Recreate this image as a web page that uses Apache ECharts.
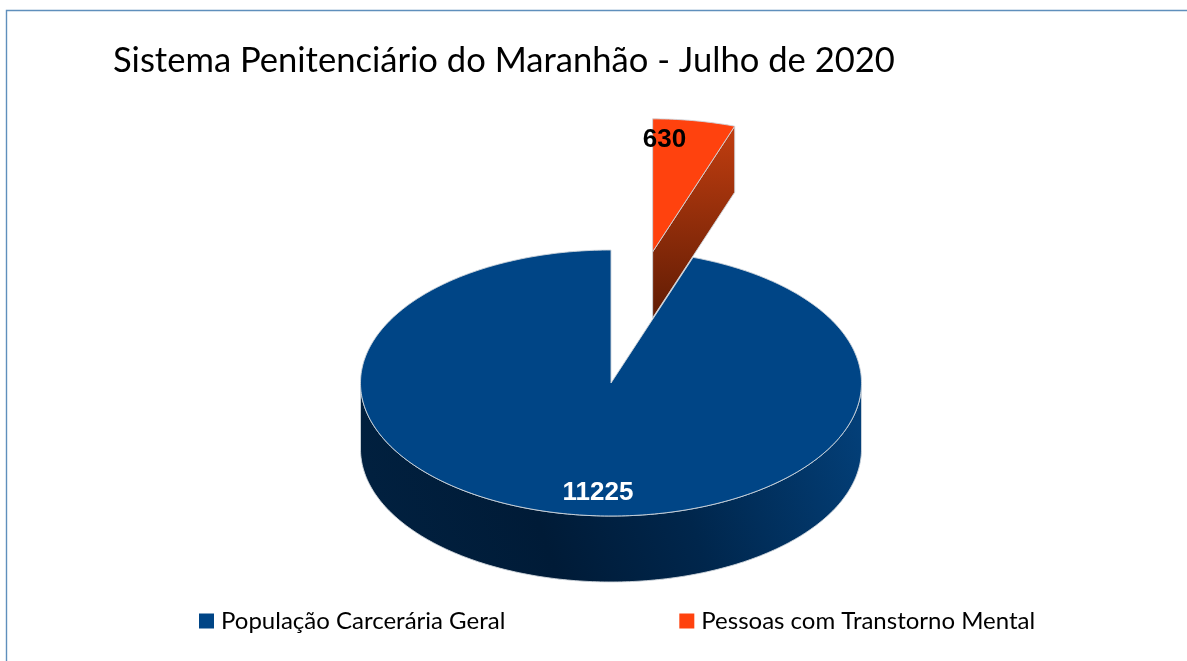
<!DOCTYPE html>
<html>
<head>
<meta charset="utf-8">
<script src="https://cdn.jsdelivr.net/npm/echarts@6/dist/echarts.min.js"></script>
<style>html,body{margin:0;padding:0;background:#fff}#c{width:1187px;height:661px}</style>
</head>
<body>
<div id="c"></div>
<script>
const titleText = 'Sistema Penitenciário do Maranhão - Julho de 2020';
const generalName = 'População Carcerária Geral';
const mentalName = 'Pessoas com Transtorno Mental';
const generalValue = [11225];
const mentalValue = [630];

const total = generalValue[0] + mentalValue[0];

const CX = 611, CY = 383, RX = 250.5, RY = 133, DEPTH = 66;
const EDGE = '#cfd6dd';
const LABEL_FONT = 'bold 26px "Liberation Sans", Arial, sans-serif';

function pt(cx, cy, a) { return [cx + RX * Math.sin(a), cy - RY * Math.cos(a)]; }
function arc(cx, cy, a0, a1) {
  const pts = [], n = Math.max(8, Math.ceil(Math.abs(a1 - a0) * 60));
  for (let i = 0; i <= n; i++) pts.push(pt(cx, cy, a0 + (a1 - a0) * i / n));
  return pts;
}
function poly(points, fill, z2) {
  return { type: 'polygon', z2: z2 || 0, shape: { points: points },
    style: { fill: fill, stroke: EDGE, lineWidth: 0.9, lineJoin: 'round' } };
}
function gradient(x0, y0, x1, y1, stops) {
  return { type: 'linear', x: x0, y: y0, x2: x1, y2: y1, global: true,
    colorStops: stops.map(c => ({ offset: c[0], color: c[1] })) };
}

function renderGeneral(params, api) {
  const sweep = api.value(0) / total * 2 * Math.PI;
  const start = 2 * Math.PI - sweep;
  const front = arc(CX, CY, Math.PI / 2, 3 * Math.PI / 2);
  const frontLow = front.map(p => [p[0], p[1] + DEPTH]).reverse();
  const wall = poly(front.concat(frontLow), gradient(400, 560, 850, 400, [
    [0, '#01203f'], [0.3, '#001b37'], [0.6, '#00264c'], [1, '#033f78']
  ]), 1);
  const top = poly([[CX, CY]].concat(arc(CX, CY, start, 2 * Math.PI)), '#004586', 2);
  const label = { type: 'text', z2: 5, style: { text: String(api.value(0)), x: 598, y: 493,
    fill: '#ffffff', font: LABEL_FONT, textAlign: 'center', textVerticalAlign: 'middle' } };
  return { type: 'group', children: [wall, top, label] };
}

function renderMental(params, api) {
  const sweep = api.value(0) / total * 2 * Math.PI;
  const mid = sweep / 2;
  const ax = CX + RX * Math.sin(mid), ay = CY - RY * Math.cos(mid);
  const edge = pt(ax, ay, sweep);
  const wall = poly([[ax, ay], edge, [edge[0], edge[1] + DEPTH], [ax, ay + DEPTH]],
    gradient(0, edge[1], 0, ay + DEPTH, [[0, '#c23e10'], [1, '#601c04']]), 3);
  const top = poly([[ax, ay]].concat(arc(ax, ay, 0, sweep)), '#ff420e', 4);
  const label = { type: 'text', z2: 5, style: { text: String(api.value(0)), x: 664.5, y: 140,
    fill: '#000000', font: LABEL_FONT, textAlign: 'center', textVerticalAlign: 'middle' } };
  return { type: 'group', children: [wall, top, label] };
}

const chart = echarts.init(document.getElementById('c'), null, { renderer: 'canvas' });
chart.setOption({
  animation: false,
  backgroundColor: '#ffffff',
  title: {
    text: titleText, left: 108, top: 38,
    textStyle: { fontFamily: 'Lato', fontWeight: 'normal', fontSize: 34.6, color: '#000000' }
  },
  legend: {
    left: 194, top: 604, icon: 'rect', itemWidth: 15, itemHeight: 15, itemGap: 174,
    data: [generalName, mentalName],
    selectedMode: false,
    textStyle: { fontFamily: 'Lato', fontSize: 24, color: '#000000', padding: [0, 0, 0, 2] }
  },
  graphic: [{
    type: 'polyline', silent: true,
    shape: { points: [[6.5, 661], [6.5, 10.5], [1187, 10.5]] },
    style: { fill: null, stroke: '#5f8fbc', lineWidth: 1.4 }
  }],
  series: [
    { type: 'custom', name: generalName, coordinateSystem: 'none', itemStyle: { color: '#004586' },
      data: [generalValue], renderItem: renderGeneral, silent: true },
    { type: 'custom', name: mentalName, coordinateSystem: 'none', itemStyle: { color: '#ff420e' },
      data: [mentalValue], renderItem: renderMental, silent: true }
  ]
});
</script>
</body>
</html>
